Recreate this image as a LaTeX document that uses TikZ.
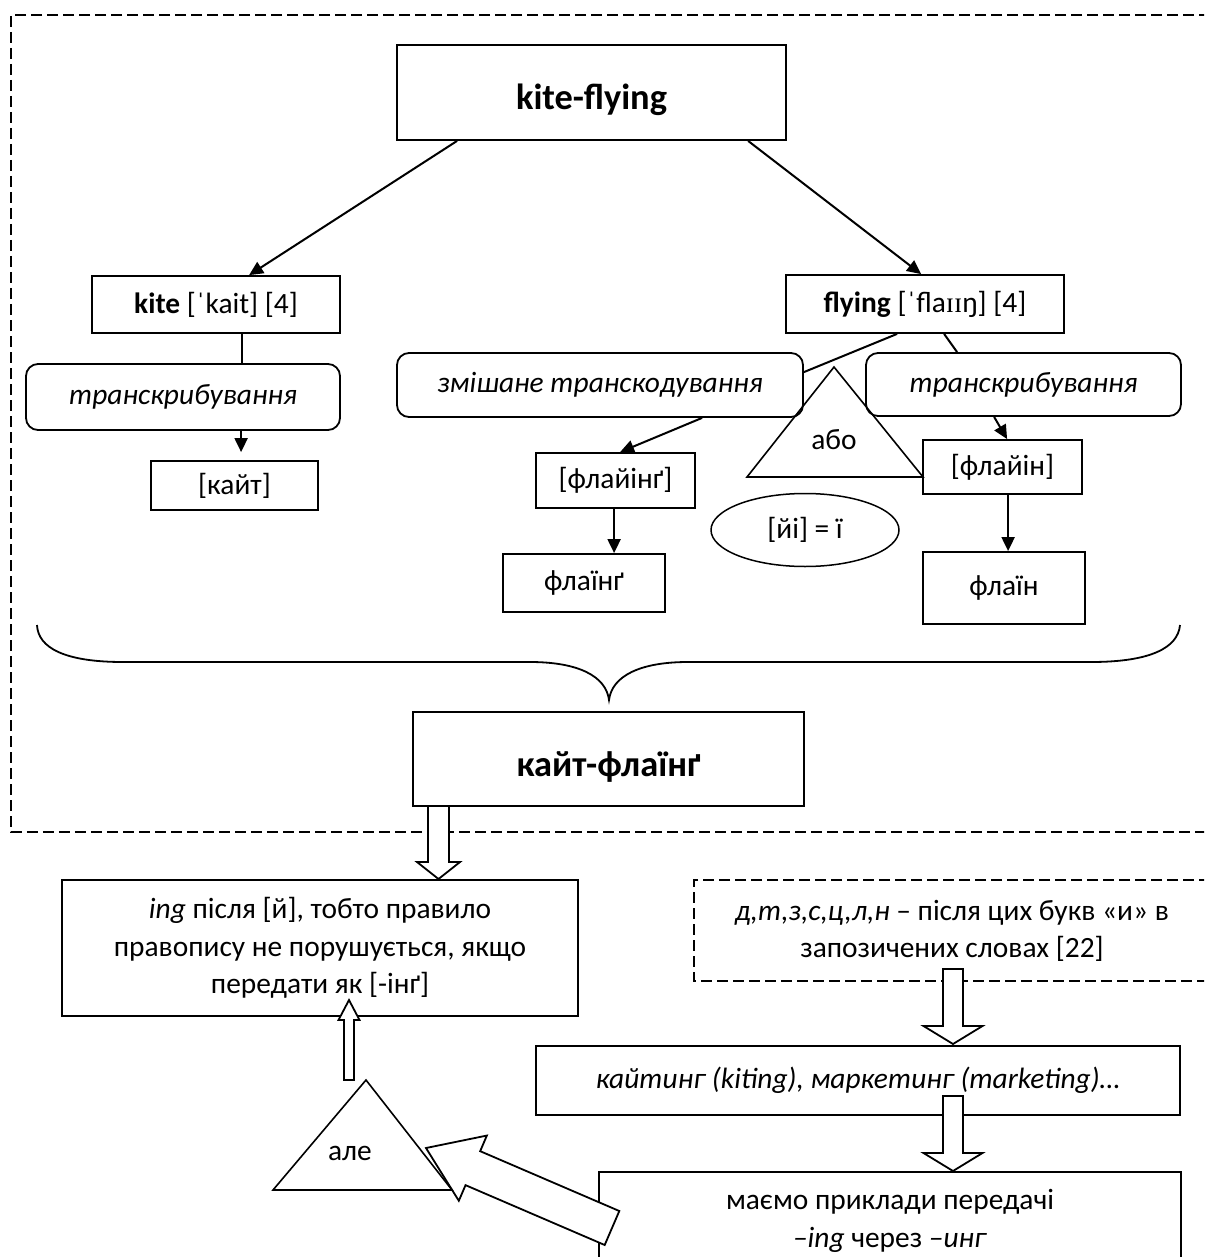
\documentclass[tikz,border=0pt]{standalone}
\usepackage{fontspec}
\setmainfont{Carlito}
\newfontfamily\ipafont{Liberation Serif}
\usetikzlibrary{shapes.geometric, arrows.meta, calc}
\newcommand\fatarrow[5]{%
 \draw[fat] let \p1=(#1), \p2=(#2), \n1={atan2(\y2-\y1,\x2-\x1)} in
 (\p2) -- ($(\p2)+(\n1+180:#5)+(\n1+90:#4)$) -- ($(\p2)+(\n1+180:#5)+(\n1+90:#3)$)
 -- ($(\p1)+(\n1+90:#3)$) -- ($(\p1)+(\n1-90:#3)$)
 -- ($(\p2)+(\n1+180:#5)+(\n1-90:#3)$) -- ($(\p2)+(\n1+180:#5)+(\n1-90:#4)$) -- cycle;}
\begin{document}
\begin{tikzpicture}[x=0.5pt, y=-0.5pt,
  every node/.style={font=\fontsize{14.7}{18.75}\selectfont, inner sep=0pt, align=center},
  box/.style={draw, line width=0.9pt, rectangle},
  titlebox/.style={box, font=\fontsize{18.2}{22}\selectfont\bfseries, text height=17pt, text depth=0pt},
  rbox/.style={draw, line width=0.9pt, rounded corners=6pt},
  conn/.style={line width=1pt},
  arr/.style={line width=1pt, -{Triangle[length=7pt,width=6.5pt]}},
  frame/.style={line width=0.75pt, dash pattern=on 5.5pt off 2.5pt},
  fat/.style={draw, fill=white, line width=0.9pt, line join=miter},
  tri/.style={draw, line width=0.8pt, line join=miter},
]
\useasboundingbox (0,0) rectangle (1204,1257);
\clip (0,0) rectangle (1204,1257);

% outer dashed frame
\draw[frame] (1210,15) -- (11,15) -- (11,832) -- (1210,832);

% top level
\node[titlebox, minimum width=194.5pt, minimum height=47.5pt] (kf) at (591.5,92.5) {kite-flying};
\node[box, minimum width=124pt, minimum height=28.5pt] (kite) at (216,304.5) {\textbf{kite} [{\ipafont ˈ}kait] [4]};
\node[box, minimum width=139pt, minimum height=29pt] (fly) at (925,304) {\textbf{flying} [{\ipafont ˈ}fla{\ipafont ɪɪ}ŋ] [4]};

\node[rbox, minimum width=157pt, minimum height=33pt] (trL) at (183,397) {\textit{транскрибування}};
\node[rbox, minimum width=203pt, minimum height=32pt] (mix) at (600,385) {\textit{змішане транскодування}};
\node[rbox, minimum width=157.5pt, minimum height=31.5pt] (trR) at (1023.5,384.5) {\textit{транскрибування}};

\node[box, minimum width=83.5pt, minimum height=24.5pt] (kayt) at (234.5,485.5) {[кайт]};
\node[box, minimum width=79.5pt, minimum height=27.5pt] (flyngB) at (615.5,480.5) {[флайінґ]};
\node[box, minimum width=79.5pt, minimum height=27pt] (flynB) at (1002.5,467) {[флайін]};
\node[box, minimum width=81pt, minimum height=29pt] (flng) at (584,583) {флаїнґ};
\node[box, minimum width=81pt, minimum height=36pt] (fln) at (1004,588) {флаїн};
\node[draw, ellipse, line width=0.75pt, minimum width=94pt, minimum height=36.5pt] (yi) at (805,530) {[йі] = ї};

% triangle "або"
\draw[tri] (834,367) -- (923,477) -- (747,477) -- cycle;
\node (abo) at (834,440) {або};

% connectors
\draw[arr] ($(kf.south west)+(61,0)$) -- ($(kite.north west)+(158,0)$);
\draw[arr] ($(kf.south west)+(352,0)$) -- ($(fly.north west)+(136,0)$);
\draw[conn] ($(kite.south west)+(151,0)$) -- ($(trL.north west)+(217,0)$);
\draw[arr, shorten >=4pt] ($(trL.south west)+(216,0)$) -- ($(kayt.north west)+(91,0)$);
\draw[conn] ($(fly.south west)+(112,0)$) -- ($(mix.north east)+(0,20)$);
\draw[conn] ($(fly.south west)+(159,0)$) -- ($(trR.north west)+(92,0)$);
\draw[arr] ($(mix.south west)+(306,0)$) -- ($(flyngB.north west)+(85,0)$);
\draw[arr] ($(trR.south west)+(129,0)$) -- ($(flynB.north west)+(85,0)$);
\coordinate (fa) at ($(flyngB.south west)+(79,0)$);
\draw[arr] (fa) -- (fa |- flng.north);
\coordinate (fb) at ($(flynB.south west)+(86,0)$);
\draw[arr] (fb) -- (fb |- fln.north);

% brace
\draw[line width=0.9pt] (37,625) .. controls (38,648) and (65,662) .. (123,662)
  -- (530,662) .. controls (578,662) and (606,676) .. (609,700)
  .. controls (612,676) and (640,662) .. (688,662)
  -- (1091,662) .. controls (1150,662) and (1178,648) .. (1180,625);

\node[titlebox, minimum width=195.5pt, minimum height=47pt] (kf2) at (608.5,759) {кайт-флаїнґ};

% lower part
\node[box, minimum width=258pt, minimum height=68pt] (ing) at (320,948)
 {\textit{ing} після [й], тобто правило\\правопису не порушується, якщо\\передати як [-інґ]};
\draw[frame] (1210,880) -- (694,880) -- (694,981) -- (1210,981);
\node (rule) at (952,931) {\textit{д,т,з,с,ц,л,н} – після цих букв «и» в\\запозичених словах [22]};
\node[box, minimum width=322pt, minimum height=34.5pt] (mark) at (858,1080.5)
 {\textit{кайтинг (kiting), маркетинг (marketing)…}};
\node[box, minimum width=291pt, minimum height=60pt] (bot) at (890,1232) {};
\node (bottxt) at (890,1221) {маємо приклади передачі\\\textit{–ing} через \textit{–инг}};

% block arrows
\coordinate (aT) at (438.5,806); \coordinate (aH) at (438.5,879);
\coordinate (bT) at (349,1080);  \coordinate (bH) at (349,1000);
\coordinate (cT) at (953,969);   \coordinate (cH) at (953,1044);
\coordinate (dT) at (953,1096);  \coordinate (dH) at (953,1171);
\coordinate (eT) at (612,1228);  \coordinate (eH) at (426,1148);
\fatarrow{aT}{aH}{5.25pt}{10.75pt}{8.5pt}
\fatarrow{bT}{bH}{2.5pt}{5.25pt}{10pt}
\fatarrow{cT}{cH}{5pt}{14.75pt}{9pt}
\fatarrow{dT}{dH}{5pt}{14.75pt}{9pt}
\fatarrow{eT}{eH}{9.25pt}{17.75pt}{25.5pt}

% triangle "але"
\draw[tri] (366,1080) -- (452,1190) -- (273,1190) -- cycle;
\node (ale) at (350,1153) {але};
\end{tikzpicture}
\end{document}
